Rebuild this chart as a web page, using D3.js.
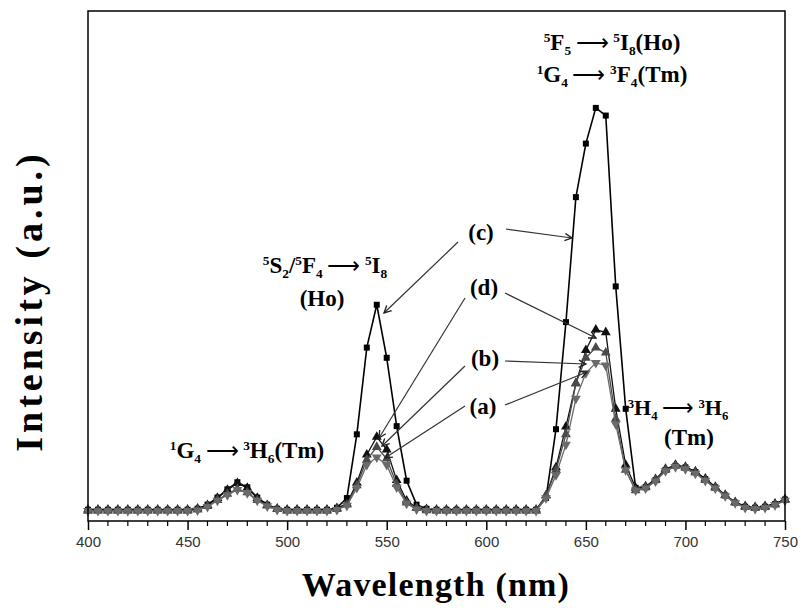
<!DOCTYPE html>
<html>
<head>
<meta charset="utf-8">
<script src="https://cdn.jsdelivr.net/npm/d3@7"></script>
<style>
  body { margin: 0; background: #fff; }
  svg { display: block; }
</style>
</head>
<body>
<div></div>
<script>
// wavelength grid, 5 nm step
const wavelength = d3.range(400, 751, 5);

// (c) black squares
const seriesC = [
  2.2, 2.2, 2.2, 2.2, 2.2, 2.2, 2.2, 2.2, 2.2, 2.2, 2.2,
  2.4, 3.2, 4.6, 6.2, 7.6, 6.6, 4.6, 3.2, 2.4,
  2.2, 2.2, 2.2, 2.2, 2.2,
  2.6, 4.5, 17, 34, 42.4, 32, 18.6, 7.9, 3.2, 2.4,
  2.2, 2.2, 2.2, 2.2, 2.2, 2.2, 2.2, 2.2, 2.2, 2.2, 2.2,
  4.5, 18, 39, 63.5, 74, 81, 79.5, 46, 22, 6.5,
  6.6, 8, 10, 10.8, 10.5, 9.6, 8.2, 6.6, 5, 3.6, 2.8, 2.6, 2.8, 3.3, 4.2
];
// (d) black up triangles
const seriesD = [
  2.2, 2.2, 2.2, 2.2, 2.2, 2.2, 2.2, 2.2, 2.2, 2.2, 2.2,
  2.4, 3.1, 4.5, 6.1, 7.4, 6.5, 4.5, 3.1, 2.4,
  2.2, 2.2, 2.2, 2.2, 2.2,
  2.5, 3.4, 7.5, 13, 16.5, 14, 8, 4, 2.6, 2.3,
  2.2, 2.2, 2.2, 2.2, 2.2, 2.2, 2.2, 2.2, 2.2, 2.2, 2.2,
  5, 10.5, 18.5, 27, 33.5, 37.5, 37, 22, 11, 6.5,
  6.8, 8.2, 10.2, 11, 10.6, 9.7, 8.3, 6.7, 5.1, 3.7, 2.9, 2.7, 2.9, 3.4, 4.3
];
// (b) dark grey up triangles
const seriesB = [
  2, 2, 2, 2, 2, 2, 2, 2, 2, 2, 2,
  2.2, 2.9, 4.1, 5.3, 6.3, 5.6, 4.1, 3, 2.3,
  2, 2, 2, 2, 2,
  2.3, 3.2, 7, 12, 14.5, 12.2, 7.2, 3.6, 2.5, 2.1,
  2, 2, 2, 2, 2, 2, 2, 2, 2, 2, 2,
  5, 10, 17, 27, 32, 34, 33, 20, 10, 6,
  6.6, 8, 10, 10.8, 10.4, 9.5, 8, 6.5, 5, 3.6, 2.7, 2.5, 2.7, 3.2, 4.1
];
// (a) grey down triangles
const seriesA = [
  2, 2, 2, 2, 2, 2, 2, 2, 2, 2, 2,
  2.1, 2.8, 4, 5.1, 6.1, 5.5, 4, 2.9, 2.2,
  2, 2, 2, 2, 2,
  2.2, 3, 6.5, 11, 12.5, 11, 6.6, 3.4, 2.3, 2,
  2, 2, 2, 2, 2, 2, 2, 2, 2, 2, 2,
  4.5, 9, 15, 24, 29, 31, 30.5, 19, 10, 6,
  6.4, 7.8, 9.8, 10.6, 10.2, 9.3, 7.9, 6.4, 4.9, 3.5, 2.6, 2.4, 2.6, 3.1, 4
];
const xTicks = [400, 450, 500, 550, 600, 650, 700, 750];

const w = 801;
const h = 608;
const svg = d3.select("div").append("svg").attr("width", w).attr("height", h);

const x = d3.scaleLinear().domain([400, 750]).range([88, 785]);
const y = d3.scaleLinear().domain([0, 100]).range([521, 11]);

svg.append("defs")
  .append("marker")
  .attr("id", "arr")
  .attr("viewBox", "0 0 10 10")
  .attr("refX", 9)
  .attr("refY", 5)
  .attr("markerWidth", 9)
  .attr("markerHeight", 9)
  .attr("markerUnits", "userSpaceOnUse")
  .attr("orient", "auto")
  .append("path")
  .attr("d", "M1,1 L9,5 L1,9")
  .attr("fill", "none")
  .attr("stroke", "#222")
  .attr("stroke-width", 1.5);

// axis
const xAxis = d3.axisBottom(x).tickValues(xTicks).tickSize(9).tickPadding(6).tickFormat(d3.format("d"));
const gx = svg.append("g").attr("transform", "translate(0,521)").call(xAxis);
gx.select(".domain").remove();
gx.selectAll("line").attr("stroke", "#000").attr("stroke-width", 1.5);
gx.selectAll("text")
  .attr("font-family", "Liberation Sans, Arial, sans-serif")
  .attr("font-size", 15)
  .attr("fill", "#333");
svg.append("g")
  .selectAll("line")
  .data(d3.range(410, 750, 10).filter((d) => d % 50 !== 0))
  .enter()
  .append("line")
  .attr("x1", (d) => x(d))
  .attr("x2", (d) => x(d))
  .attr("y1", 521)
  .attr("y2", 526)
  .attr("stroke", "#000")
  .attr("stroke-width", 1.2);

const series = [
  { vals: seriesC, line: "#000", lw: 1.6, sym: d3.symbolSquare, size: 36, fill: "#000", rot: 0 },
  { vals: seriesD, line: "#111", lw: 1.3, sym: d3.symbolTriangle, size: 42, fill: "#111", rot: 0 },
  { vals: seriesB, line: "#4a4a4a", lw: 1.3, sym: d3.symbolTriangle, size: 42, fill: "#4a4a4a", rot: 0 },
  { vals: seriesA, line: "#6a6a6a", lw: 1.3, sym: d3.symbolTriangle, size: 42, fill: "#6a6a6a", rot: 180 },
];

const line = d3.line().x((d) => x(d[0])).y((d) => y(d[1]));

series.forEach((s) => {
  const pts = wavelength.map((wl, i) => [wl, s.vals[i]]);
  svg.append("path")
    .datum(pts)
    .attr("d", line)
    .attr("fill", "none")
    .attr("stroke", s.line)
    .attr("stroke-width", s.lw);
  svg.append("g")
    .selectAll("path")
    .data(pts)
    .enter()
    .append("path")
    .attr("d", d3.symbol().type(s.sym).size(s.size))
    .attr("transform", (d) => "translate(" + x(d[0]) + "," + y(d[1]) + ") rotate(" + s.rot + ")")
    .attr("fill", s.fill);
});

// frame
svg.append("rect")
  .attr("x", 88).attr("y", 11)
  .attr("width", 697).attr("height", 510)
  .attr("fill", "none")
  .attr("stroke", "#000")
  .attr("stroke-width", 1.5);

// rich text helper: segments [text, "sup"|"sub"|"arr"|undefined]
function rich(px, py, segs, size) {
  const t = svg.append("text")
    .attr("x", px).attr("y", py)
    .attr("text-anchor", "middle")
    .attr("font-family", "Liberation Serif, Times New Roman, serif")
    .attr("font-weight", "bold")
    .attr("font-size", size);
  let off = 0;
  segs.forEach((s) => {
    let target = 0;
    if (s[1] === "sup") target = -size * 0.33;
    if (s[1] === "sub") target = size * 0.22;
    const sp = t.append("tspan").text(s[0]).attr("dy", target - off);
    if (s[1] === "sup" || s[1] === "sub") sp.attr("font-size", size * 0.58);
    if (s[1] === "arr") sp.attr("font-weight", "normal");
    off = target;
  });
  return t;
}

const fs = 23;
const arrowTxt = "\u2009\u27F6\u2009";
rich(612, 50, [["5", "sup"], ["F"], ["5", "sub"], [arrowTxt, "arr"], ["5", "sup"], ["I"], ["8", "sub"], ["(Ho)"]], fs);
rich(612, 82, [["1", "sup"], ["G"], ["4", "sub"], [arrowTxt, "arr"], ["3", "sup"], ["F"], ["4", "sub"], ["(Tm)"]], fs);
rich(325, 273, [["5", "sup"], ["S"], ["2", "sub"], ["/"], ["5", "sup"], ["F"], ["4", "sub"], [arrowTxt, "arr"], ["5", "sup"], ["I"], ["8", "sub"]], fs);
rich(322, 306, [["(Ho)"]], fs);
rich(247, 458, [["1", "sup"], ["G"], ["4", "sub"], [arrowTxt, "arr"], ["3", "sup"], ["H"], ["6", "sub"], ["(Tm)"]], fs);
rich(678, 415, [["3", "sup"], ["H"], ["4", "sub"], [arrowTxt, "arr"], ["3", "sup"], ["H"], ["6", "sub"]], 22);
rich(689, 445, [["(Tm)"]], fs);

rich(481, 240, [["(c)"]], fs);
rich(484, 295, [["(d)"]], fs);
rich(485, 366, [["(b)"]], fs);
rich(483, 414, [["(a)"]], fs);

const arrows = [
  [458, 242, 384, 313],
  [506, 229, 572, 238],
  [465, 298, 379, 438],
  [505, 293, 596, 338],
  [465, 366, 382, 446],
  [505, 361, 586, 364],
  [465, 406, 385, 458],
  [505, 405, 587, 372],
];
svg.append("g")
  .selectAll("line")
  .data(arrows)
  .enter()
  .append("line")
  .attr("x1", (d) => d[0]).attr("y1", (d) => d[1])
  .attr("x2", (d) => d[2]).attr("y2", (d) => d[3])
  .attr("stroke", "#333")
  .attr("stroke-width", 1.2)
  .attr("marker-end", "url(#arr)");

// axis titles
svg.append("text")
  .attr("x", 436).attr("y", 596)
  .attr("text-anchor", "middle")
  .attr("font-family", "Liberation Serif, Times New Roman, serif")
  .attr("font-weight", "bold")
  .attr("font-size", 34)
  .attr("letter-spacing", 1.2)
  .text("Wavelength (nm)");
svg.append("text")
  .attr("transform", "translate(42,301) rotate(-90)")
  .attr("text-anchor", "middle")
  .attr("font-family", "Liberation Serif, Times New Roman, serif")
  .attr("font-weight", "bold")
  .attr("font-size", 38)
  .attr("letter-spacing", 4)
  .text("Intensity (a.u.)");
</script>
</body>
</html>
